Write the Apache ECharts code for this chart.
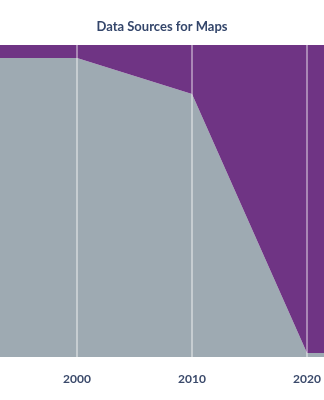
<!DOCTYPE html>
<html>
<head>
<meta charset="utf-8">
<style>html,body{margin:0;padding:0;background:#fff;overflow:hidden;width:324px;height:400px;position:relative}#c{position:absolute;left:-140px;top:0;width:604px;height:400px}</style>
<script src="https://cdn.jsdelivr.net/npm/echarts@6/dist/echarts.min.js"></script>
</head>
<body>
<div id="c"></div>
<script>
const years = ['1990', '2000', '2010', '2020', '2030'];
const otherShare = [95.8, 95.8, 84.3, 1.3, 1.3];
const purpleShare = [4.2, 4.2, 15.7, 98.7, 98.7];

const chart = echarts.init(document.getElementById('c'), null, {renderer: 'canvas'});
chart.setOption({
  animation: false,
  title: {
    text: 'Data Sources for Maps',
    left: 'center',
    top: 15,
    textStyle: {fontFamily: 'Lato', fontWeight: 'bold', fontSize: 13, color: '#34466b'}
  },
  grid: {left: 102, right: 42, top: 45, bottom: 43},
  xAxis: {
    type: 'category', data: years, boundaryGap: false, z: 5,
    axisLine: {show: false}, axisTick: {show: false},
    axisLabel: {
      margin: 16, fontFamily: 'Lato', fontWeight: 'bold', fontSize: 12, color: '#3b4a6b'
    },
    splitLine: {show: true, lineStyle: {color: 'rgba(255,255,255,0.55)', width: 1.5}}
  },
  yAxis: {type: 'value', min: 0, max: 100, show: false, splitLine: {show: false}},
  series: [
    {type: 'line', stack: 's', symbol: 'none', lineStyle: {width: 0},
     areaStyle: {color: '#9eaab2', opacity: 1}, data: otherShare},
    {type: 'line', stack: 's', symbol: 'none', lineStyle: {width: 0},
     areaStyle: {color: '#6f3484', opacity: 1}, data: purpleShare}
  ]
});
</script>
</body>
</html>
